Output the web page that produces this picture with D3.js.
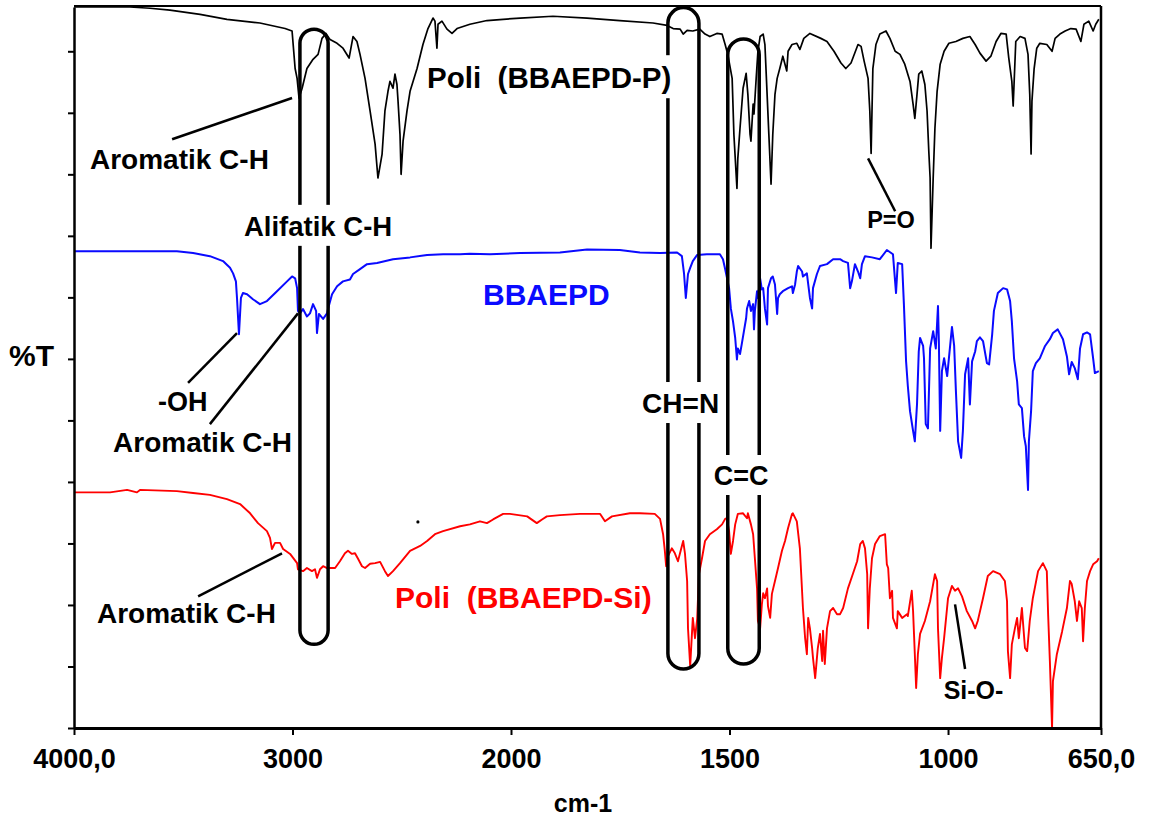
<!DOCTYPE html>
<html><head><meta charset="utf-8">
<script src="https://cdn.jsdelivr.net/npm/d3@7"></script>
<style>
html,body{margin:0;padding:0;background:#fff;}
svg{display:block;font-family:"Liberation Sans",Arial,Helvetica,sans-serif;}
text{white-space:pre;}
</style></head><body>
<svg id="chart" width="1152" height="820"></svg>
<script>
// Wavenumber axis: ticks and their printed labels
const xTicks = [4000, 3000, 2000, 1500, 1000, 650];
const xTickLabels = ["4000,0", "3000", "2000", "1500", "1000", "650,0"];
const yTicks = d3.range(0, 111, 10);

// Spectra as [wavenumber (cm-1), %T] pairs
const poliP = [[4000,117.2],[3744,117.2],[3652,117.0],[3561,116.7],[3423,116.0],[3300,115.2],[3149,114.6],[3034,113.7],[3002,113.3],[2988,107.2],[2979,105.6],[2970,102.4],[2956,104.0],[2934,107.2],[2906,108.7],[2883,109.5],[2865,112.1],[2847,112.9],[2828,111.9],[2796,111.3],[2769,110.5],[2741,108.9],[2723,112.4],[2705,111.6],[2691,109.5],[2668,105.6],[2645,100.3],[2622,94.9],[2609,89.4],[2590,93.3],[2577,100.3],[2563,103.5],[2554,105.1],[2540,104.0],[2531,106.3],[2522,104.6],[2517,101.9],[2508,96.5],[2503,90.0],[2494,95.4],[2476,100.3],[2462,103.5],[2430,107.2],[2403,111.1],[2380,113.7],[2357,115.4],[2348,114.9],[2339,110.5],[2334,114.4],[2316,114.9],[2293,113.6],[2270,112.9],[2247,113.7],[2188,114.4],[2110,115.0],[2036,115.2],[1979,115.4],[1904,115.7],[1826,115.4],[1751,115.0],[1675,114.6],[1643,114.2],[1629,113.7],[1613,113.6],[1606,112.8],[1597,113.4],[1584,113.3],[1568,113.6],[1556,112.8],[1545,112.4],[1529,112.9],[1517,112.8],[1510,111.1],[1504,109.5],[1494,105.6],[1490,96.5],[1483,87.7],[1481,92.6],[1476,97.5],[1469,104.0],[1462,106.4],[1458,103.0],[1453,96.5],[1451,95.4],[1446,101.4],[1444,99.8],[1439,105.6],[1435,110.0],[1430,112.4],[1423,112.8],[1419,111.1],[1414,103.0],[1410,96.5],[1405,88.4],[1401,96.5],[1396,103.0],[1391,105.6],[1385,107.2],[1378,109.2],[1369,106.8],[1366,110.0],[1357,111.1],[1346,111.3],[1339,110.3],[1330,112.1],[1316,112.9],[1291,112.1],[1277,111.6],[1261,110.0],[1245,108.1],[1234,107.2],[1222,108.1],[1206,111.1],[1199,110.8],[1192,108.4],[1183,105.6],[1179,100.3],[1176,93.4],[1172,107.2],[1165,111.1],[1156,112.8],[1142,113.3],[1133,112.1],[1121,110.0],[1110,109.5],[1099,107.9],[1087,105.1],[1080,101.4],[1076,99.1],[1071,103.0],[1067,106.3],[1060,106.8],[1053,104.6],[1048,100.3],[1044,93.7],[1041,89.4],[1039,78.0],[1034,89.4],[1030,97.5],[1025,103.5],[1018,107.9],[1009,110.0],[998,111.3],[982,111.6],[966,112.1],[950,112.4],[938,111.1],[927,109.7],[913,108.4],[902,109.2],[890,111.6],[879,112.9],[867,112.8],[861,108.9],[854,105.1],[851,101.1],[849,104.6],[845,111.6],[835,112.4],[824,112.1],[817,109.5],[813,103.0],[810,93.3],[808,101.9],[803,107.2],[797,110.5],[790,111.3],[774,111.1],[762,110.0],[755,112.1],[744,112.8],[732,113.3],[719,113.7],[707,113.6],[696,111.6],[689,114.4],[678,114.9],[668,113.3],[662,114.4],[655,115.2]];

const bbaepd = [[4000,77.5],[3529,77.5],[3455,77.2],[3378,76.7],[3318,75.9],[3286,74.8],[3272,73.9],[3259,72.6],[3254,69.9],[3249,66.6],[3245,64.0],[3236,69.9],[3227,70.7],[3208,70.5],[3181,69.7],[3149,68.9],[3117,69.4],[3071,71.0],[3025,72.6],[3002,73.4],[2988,73.1],[2979,71.5],[2975,67.8],[2966,67.4],[2952,68.1],[2934,66.9],[2920,67.4],[2906,68.9],[2892,67.8],[2888,64.2],[2879,67.3],[2860,66.5],[2842,67.4],[2837,68.2],[2819,70.5],[2796,71.8],[2769,72.6],[2737,72.9],[2723,73.8],[2691,74.6],[2659,75.4],[2613,75.6],[2540,76.2],[2462,76.5],[2384,76.9],[2311,77.0],[2233,77.0],[2188,77.1],[2096,77.0],[1979,77.2],[1888,77.3],[1826,77.8],[1751,77.7],[1705,77.3],[1659,77.2],[1620,77.3],[1609,76.7],[1604,73.8],[1600,69.9],[1595,73.8],[1590,74.8],[1584,75.9],[1574,76.9],[1552,77.0],[1522,77.0],[1515,76.2],[1510,74.6],[1501,71.5],[1497,68.2],[1492,66.1],[1487,63.4],[1483,59.9],[1481,61.7],[1476,60.8],[1472,62.4],[1467,64.5],[1462,66.6],[1460,68.2],[1455,69.4],[1451,67.8],[1446,68.9],[1444,64.8],[1442,67.8],[1437,71.0],[1435,69.9],[1430,73.1],[1426,71.3],[1423,71.5],[1419,68.2],[1414,65.6],[1412,71.5],[1405,73.1],[1401,73.4],[1396,72.1],[1391,67.3],[1389,69.9],[1385,70.5],[1378,71.0],[1366,71.5],[1357,71.8],[1355,70.7],[1350,72.1],[1346,74.2],[1343,75.1],[1334,74.2],[1332,73.4],[1323,73.9],[1316,69.9],[1311,68.2],[1309,71.5],[1300,73.8],[1293,75.1],[1277,75.4],[1263,76.2],[1247,76.2],[1240,75.9],[1229,75.6],[1224,71.5],[1220,72.6],[1213,75.4],[1206,74.2],[1201,73.1],[1197,75.4],[1190,76.7],[1174,76.5],[1156,76.2],[1140,77.7],[1126,77.0],[1119,70.7],[1115,75.6],[1105,75.4],[1101,68.9],[1096,59.6],[1092,55.6],[1087,51.5],[1080,48.3],[1076,46.6],[1071,52.6],[1067,61.2],[1064,63.4],[1057,62.1],[1055,60.1],[1051,49.4],[1046,48.7],[1041,61.7],[1034,64.5],[1028,61.7],[1023,68.6],[1021,62.9],[1018,48.3],[1014,58.0],[1009,60.1],[1002,57.2],[991,65.2],[986,62.1],[982,54.8],[977,46.6],[970,43.9],[966,48.3],[961,57.5],[954,60.1],[950,52.6],[945,59.6],[938,61.2],[934,62.9],[927,63.5],[920,62.9],[911,59.3],[906,59.1],[899,64.0],[895,67.8],[886,70.7],[874,71.5],[865,71.3],[858,69.4],[854,66.1],[849,60.1],[842,56.4],[838,52.6],[831,52.0],[826,47.4],[822,45.8],[817,38.7],[815,46.6],[810,51.5],[806,58.0],[799,59.3],[790,60.1],[778,62.1],[767,63.2],[760,64.2],[749,64.8],[737,63.2],[728,60.4],[723,57.5],[717,59.5],[710,58.5],[703,56.7],[698,61.7],[691,64.0],[682,64.3],[675,64.0],[668,60.1],[664,57.7],[655,58.0]];

const poliSi = [[4000,38.3],[3835,38.3],[3757,38.7],[3712,38.3],[3698,38.7],[3529,38.5],[3455,38.2],[3378,37.9],[3300,37.2],[3240,36.4],[3194,34.9],[3158,33.3],[3117,32.0],[3103,30.9],[3094,29.1],[3080,30.1],[3057,30.1],[3043,29.1],[3011,28.3],[2979,26.8],[2975,25.8],[2952,25.5],[2934,26.0],[2911,25.5],[2897,25.8],[2888,24.4],[2874,25.8],[2860,26.3],[2842,26.0],[2805,26.0],[2783,27.1],[2760,28.4],[2746,28.8],[2728,28.3],[2714,28.4],[2700,27.5],[2682,26.3],[2668,26.0],[2645,26.7],[2622,26.8],[2599,27.0],[2577,25.5],[2563,24.7],[2540,25.5],[2508,26.8],[2462,28.8],[2416,29.6],[2384,30.4],[2348,31.5],[2311,32.0],[2233,32.8],[2188,33.1],[2142,33.6],[2110,33.3],[2082,33.9],[2036,34.8],[2005,34.8],[1963,34.4],[1941,33.3],[1929,33.9],[1918,34.4],[1888,34.6],[1842,34.8],[1796,34.8],[1785,33.6],[1769,34.4],[1728,34.9],[1705,34.9],[1671,34.8],[1659,34.0],[1652,31.5],[1648,28.8],[1645,26.3],[1641,27.9],[1632,29.2],[1625,28.4],[1618,27.1],[1609,29.6],[1606,30.4],[1602,28.4],[1597,23.9],[1595,16.2],[1590,10.1],[1586,15.3],[1584,17.9],[1579,14.6],[1574,17.7],[1570,25.0],[1563,27.6],[1556,30.4],[1545,31.5],[1529,32.3],[1517,33.1],[1510,34.0],[1506,34.1],[1501,32.0],[1497,28.3],[1492,30.4],[1487,33.1],[1481,34.8],[1469,34.9],[1460,34.1],[1458,34.9],[1451,33.1],[1446,31.5],[1442,27.6],[1437,22.7],[1435,17.4],[1430,16.2],[1426,20.1],[1423,21.9],[1419,21.1],[1414,22.7],[1412,19.8],[1407,17.9],[1403,21.8],[1396,23.9],[1389,26.0],[1380,28.8],[1373,30.4],[1366,32.5],[1357,34.8],[1355,34.9],[1346,33.6],[1339,29.2],[1332,19.5],[1327,14.6],[1323,12.0],[1320,17.9],[1316,16.2],[1311,13.0],[1309,11.4],[1304,8.1],[1300,11.4],[1298,13.0],[1293,15.3],[1288,10.9],[1286,15.8],[1282,10.4],[1277,16.2],[1270,19.0],[1263,19.5],[1254,18.5],[1247,18.5],[1240,19.5],[1229,22.7],[1218,25.0],[1208,27.1],[1201,29.9],[1195,30.4],[1190,29.2],[1185,25.0],[1183,16.2],[1179,22.7],[1174,27.6],[1167,29.9],[1156,31.2],[1144,31.5],[1140,26.6],[1137,26.0],[1133,21.1],[1128,22.3],[1126,17.9],[1117,16.2],[1115,19.0],[1105,17.9],[1094,18.5],[1092,18.2],[1083,22.3],[1080,19.0],[1076,12.0],[1073,6.5],[1069,12.0],[1064,15.3],[1053,17.4],[1041,20.6],[1030,25.0],[1025,23.9],[1023,16.2],[1018,8.1],[1014,11.4],[1009,14.6],[1000,21.1],[991,23.1],[984,22.3],[977,22.7],[968,21.4],[957,19.0],[945,17.4],[938,16.2],[932,17.4],[920,21.1],[909,24.7],[897,25.5],[881,25.0],[870,23.9],[865,20.6],[863,12.5],[858,8.1],[854,13.6],[847,16.2],[842,17.9],[838,14.6],[831,19.5],[824,13.0],[819,12.5],[813,17.4],[806,21.1],[794,25.5],[783,26.8],[774,25.5],[771,18.5],[767,10.9],[762,0],[760,7.6],[751,12.0],[739,15.7],[728,19.5],[721,23.9],[717,23.4],[710,20.6],[705,17.4],[700,20.6],[694,19.5],[691,14.1],[687,19.5],[682,23.9],[675,25.5],[668,26.6],[659,27.1],[655,27.6]];

const series = [
  { name: "Poli (BBAEPD-P)", values: poliP, color: "#000000", width: 1.7 },
  { name: "BBAEPD", values: bbaepd, color: "#0a0aff", width: 2 },
  { name: "Poli (BBAEPD-Si)", values: poliSi, color: "#ff0000", width: 1.9 }
];

// Marked band regions: wavenumber span and %T extent
const bands = [
  { from: 2966, to: 2837, top: 113.6, bottom: 13.6 },
  { from: 1641, to: 1570, top: 117.1, bottom: 9.6 },
  { from: 1504, to: 1432, top: 112.0, bottom: 10.4 }
];

// Annotation texts anchored at [wavenumber, %T] (left edge, baseline)
const notes = [
  { text: "Aromatik C-H", wn: 3927, t: 90.8, color: "#000", size: 28 },
  { text: "Alifatik C-H", wn: 3222, t: 80.0, color: "#000", size: 27.5, bg: true },
  { text: "Poli  (BBAEPD-P)", wn: 2384, t: 104.0, color: "#000", size: 29.5, bg: true },
  { text: "BBAEPD", wn: 2128, t: 68.7, color: "#0a0aff", size: 30 },
  { text: "-OH", wn: 3616, t: 51.5, color: "#000", size: 27 },
  { text: "Aromatik C-H", wn: 3821, t: 44.8, color: "#000", size: 28 },
  { text: "CH=N", wn: 1700, t: 51.2, color: "#000", size: 28, bg: true },
  { text: "C=C", wn: 1536, t: 39.5, color: "#000", size: 27, bg: true },
  { text: "P=O", wn: 1185, t: 81.3, color: "#000", size: 23.5 },
  { text: "Aromatik C-H", wn: 3895, t: 17.1, color: "#000", size: 28 },
  { text: "Poli  (BBAEPD-Si)", wn: 2531, t: 19.5, color: "#ff0000", size: 30 },
  { text: "Si-O-", wn: 1010, t: 4.7, color: "#000", size: 25 }
];

// Leader lines from labels to peaks: [wn1, t1, wn2, t2]
const leaders = [
  [3551, 95.7, 3002, 102.4],
  [1183, 92.6, 1121, 84.0],
  [3478, 56.1, 3254, 64.2],
  [3378, 49.4, 2975, 67.4],
  [3432, 21.4, 3048, 28.4],
  [984, 20.1, 961, 9.6]
];

const svg = d3.select("#chart");
const padL = 74, padR = 1101, padT = 7, padB = 728;

// Split wavenumber scale: 2000 cm-1 and below drawn at double spacing
const x = d3.scaleLinear().domain([4000, 2000, 650]).range([padL, 511, padR]);
const y = d3.scaleLinear().domain([0, 117.2]).range([padB, padT]);

svg.append("defs").append("clipPath").attr("id", "clip")
  .append("rect").attr("x", padL).attr("y", padT - 1).attr("width", padR - padL).attr("height", padB - padT + 1);

const line = d3.line().x(d => x(d[0])).y(d => y(d[1]));

svg.append("g").attr("clip-path", "url(#clip)")
  .selectAll("path").data(series).join("path")
  .attr("d", d => line(d.values))
  .attr("fill", "none")
  .attr("stroke", d => d.color)
  .attr("stroke-width", d => d.width)
  .attr("stroke-linejoin", "round");

// Frame and axes
svg.append("line").attr("x1", padL).attr("x2", padR).attr("y1", padT - 1).attr("y2", padT - 1)
  .attr("stroke", "#000").attr("stroke-width", 2);
svg.append("line").attr("x1", padR).attr("x2", padR).attr("y1", padT - 1).attr("y2", padB)
  .attr("stroke", "#000").attr("stroke-width", 2.5);

const xAxis = svg.append("g").attr("transform", `translate(0,${padB})`)
  .call(d3.axisBottom(x).tickValues(xTicks).tickSize(7).tickSizeOuter(0)
    .tickFormat((d, i) => xTickLabels[i]));
xAxis.select(".domain").attr("stroke-width", 3);
xAxis.selectAll(".tick line").attr("stroke-width", 2);
xAxis.selectAll(".tick text").attr("font-size", 27).attr("font-weight", "bold")
  .attr("font-family", "Liberation Sans, Arial, sans-serif").attr("fill", "#000")
  .attr("dy", null).attr("y", 40);

const yAxis = svg.append("g").attr("transform", `translate(${padL},0)`)
  .call(d3.axisLeft(y).tickValues(yTicks).tickSize(6).tickSizeOuter(0).tickFormat(""));
yAxis.select(".domain").attr("stroke-width", 2.5);
yAxis.selectAll(".tick line").attr("stroke-width", 2);

svg.append("text").attr("x", 583).attr("y", 812).attr("text-anchor", "middle")
  .attr("font-size", 25).attr("font-weight", "bold").text("cm-1");
svg.append("text").attr("x", 9).attr("y", 366)
  .attr("font-size", 30).attr("font-weight", "bold").text("%T");

// Band outlines: tall rounded capsules
const bandG = svg.append("g");
bands.forEach(b => {
  const x0 = x(b.from), x1 = x(b.to), yt = y(b.top), yb = y(b.bottom);
  const r = (x1 - x0) / 2;
  const p = d3.path();
  p.moveTo(x0, yt + r);
  p.arc(x0 + r, yt + r, r, Math.PI, 0);
  p.lineTo(x1, yb - r);
  p.arc(x0 + r, yb - r, r, 0, Math.PI);
  p.closePath();
  bandG.append("path").attr("d", p.toString()).attr("fill", "none")
    .attr("stroke", "#000").attr("stroke-width", 3.5);
});

// Leader lines
svg.append("g").selectAll("line").data(leaders).join("line")
  .attr("x1", d => x(d[0])).attr("y1", d => y(d[1]))
  .attr("x2", d => x(d[2])).attr("y2", d => y(d[3]))
  .attr("stroke", "#000").attr("stroke-width", 2.5);

// Stray mark in the lower panel
svg.append("circle").attr("cx", x(2426)).attr("cy", y(33.5)).attr("r", 1.6).attr("fill", "#000");

// Annotation labels (some knock out the band outlines behind them)
const noteG = svg.append("g");
notes.forEach(n => {
  const g = noteG.append("g");
  const t = g.append("text").attr("x", x(n.wn)).attr("y", y(n.t))
    .attr("font-size", n.size).attr("font-weight", "bold").attr("fill", n.color).text(n.text);
  if (n.bg) {
    const bb = t.node().getBBox();
    g.insert("rect", "text").attr("x", bb.x - 2).attr("y", bb.y - 6)
      .attr("width", bb.width + 4).attr("height", bb.height + 10).attr("fill", "#fff");
  }
});
</script>
</body></html>
